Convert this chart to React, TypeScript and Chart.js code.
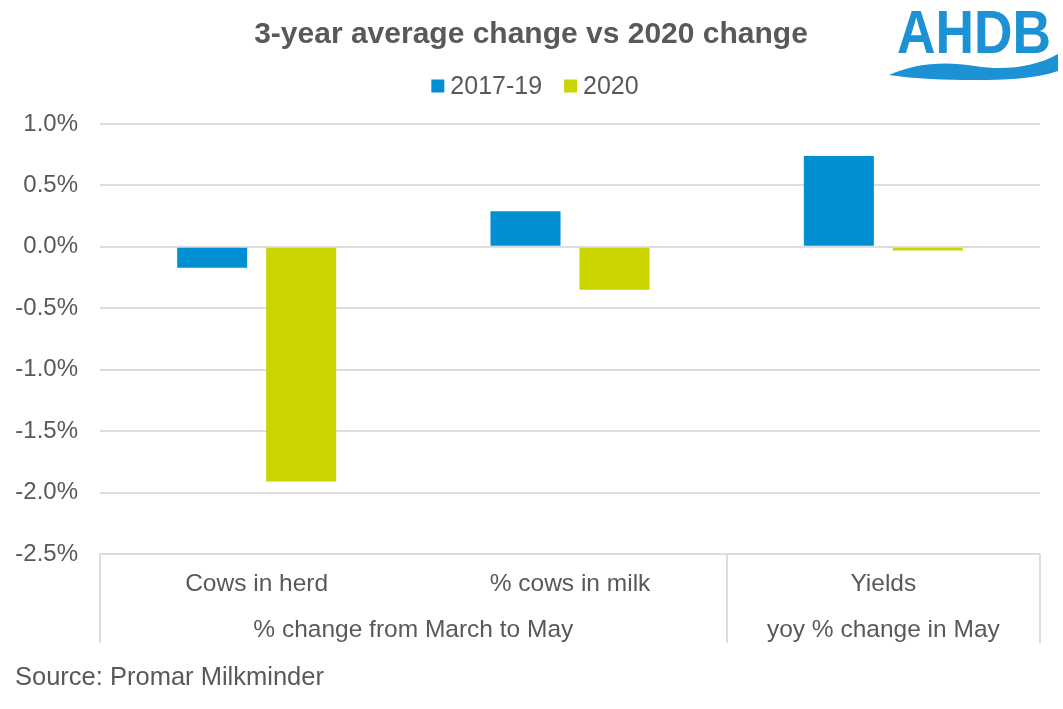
import { useEffect, useRef } from 'react';
import { Chart, registerables } from 'chart.js';

Chart.register(...registerables);

const categories = ['Cows in herd', '% cows in milk', 'Yields'];
const groupLabels = ['% change from March to May', 'yoy % change in May'];
const groupStart = [0, 2];
const groupEnd = [1, 2];
const seriesNames = ['2017-19', '2020'];
const values2017to19 = [-0.17, 0.29, 0.74];
const values2020 = [-1.91, -0.35, -0.03];
const yMin = -2.5;
const yMax = 1.0;
const yStep = 0.5;
const titleText = '3-year average change vs 2020 change';
const sourceText = 'Source: Promar Milkminder';
const logoText = 'AHDB';

const BLUE = '#008FD3';
const GREEN = '#C9D400';
const TEXT = '#595959';
const GRID = '#DDDDDD';
const FONT = '"Liberation Sans", Arial, sans-serif';

const overlayPlugin = {
  id: 'overlay',
  afterDraw(chart: any) {
    const ctx = chart.ctx as CanvasRenderingContext2D;
    const area = chart.chartArea;
    const xs = chart.scales.x;
    ctx.save();

    // Title
    ctx.fillStyle = TEXT;
    ctx.font = `bold 30px ${FONT}`;
    ctx.textAlign = 'center';
    ctx.textBaseline = 'middle';
    ctx.fillText(titleText, 531, 35);

    // Legend
    ctx.font = `25px ${FONT}`;
    const box = 13;
    const gapBoxText = 6;
    const gapItems = 22;
    const colors = [BLUE, GREEN];
    const widths = seriesNames.map((s) => ctx.measureText(s).width);
    let total = 0;
    widths.forEach((w, i) => {
      total += box + gapBoxText + w + (i < widths.length - 1 ? gapItems : 0);
    });
    let lx = 535 - total / 2;
    const ly = 86;
    ctx.textAlign = 'left';
    seriesNames.forEach((s, i) => {
      ctx.fillStyle = colors[i];
      ctx.fillRect(lx, ly - box / 2, box, box);
      lx += box + gapBoxText;
      ctx.fillStyle = TEXT;
      ctx.fillText(s, lx, ly + 1);
      lx += widths[i] + gapItems;
    });

    // Category labels
    ctx.font = `24.5px ${FONT}`;
    const n = categories.length;
    const catW = (area.right - area.left) / n;
    ctx.textAlign = 'center';
    categories.forEach((c, i) => {
      ctx.fillText(c, xs.getPixelForValue(i), 584);
    });

    // Group labels & separators
    ctx.strokeStyle = GRID;
    ctx.lineWidth = 2;
    const sepBottom = 643;
    const boundaries: number[] = [];
    groupLabels.forEach((g, gi) => {
      const left = xs.getPixelForValue(groupStart[gi]) - catW / 2;
      const right = xs.getPixelForValue(groupEnd[gi]) + catW / 2;
      ctx.fillText(g, (left + right) / 2, 630);
      if (boundaries.indexOf(left) < 0) boundaries.push(left);
      if (boundaries.indexOf(right) < 0) boundaries.push(right);
    });
    boundaries.forEach((bx) => {
      ctx.beginPath();
      ctx.moveTo(Math.round(bx), area.bottom);
      ctx.lineTo(Math.round(bx), sepBottom);
      ctx.stroke();
    });

    // Source
    ctx.font = `25.5px ${FONT}`;
    ctx.textAlign = 'left';
    ctx.fillStyle = TEXT;
    ctx.fillText(sourceText, 15, 678);

    // Logo
    ctx.fillStyle = '#1C91D3';
    ctx.font = `bold 62px ${FONT}`;
    ctx.textAlign = 'left';
    ctx.textBaseline = 'alphabetic';
    ctx.fillText(logoText, 897, 53, 154);
    ctx.beginPath();
    ctx.moveTo(889, 75);
    ctx.bezierCurveTo(915, 63, 945, 61, 975, 66);
    ctx.bezierCurveTo(1005, 71, 1035, 67, 1058, 54);
    ctx.lineTo(1058, 71);
    ctx.bezierCurveTo(1035, 79, 1005, 80, 975, 80);
    ctx.bezierCurveTo(945, 80, 915, 79, 889, 75);
    ctx.closePath();
    ctx.fill();

    ctx.restore();
  },
};

export default function App() {
  const ref = useRef<HTMLCanvasElement | null>(null);

  useEffect(() => {
    if (!ref.current) return;
    const chart = new Chart(ref.current, {
      type: 'bar',
      data: {
        labels: categories,
        datasets: [
          {
            label: seriesNames[0],
            data: values2017to19,
            backgroundColor: BLUE,
            borderWidth: 0,
            categoryPercentage: 0.568,
            barPercentage: 0.787,
          },
          {
            label: seriesNames[1],
            data: values2020,
            backgroundColor: GREEN,
            borderWidth: 0,
            categoryPercentage: 0.568,
            barPercentage: 0.787,
          },
        ],
      },
      options: {
        responsive: false,
        animation: false,
        devicePixelRatio: 1,
        layout: { padding: { left: 0, right: 23, top: 124, bottom: 155 } },
        plugins: {
          legend: { display: false },
          title: { display: false },
          tooltip: { enabled: false },
        },
        scales: {
          x: {
            display: false,
          },
          y: {
            min: yMin,
            max: yMax,
            afterFit: (scale: any) => {
              scale.width = 100;
            },
            ticks: {
              stepSize: yStep,
              padding: 22,
              color: TEXT,
              font: { family: FONT, size: 24 },
              callback: (v: any) => Number(v).toFixed(1) + '%',
            },
            grid: { color: GRID, lineWidth: 2, drawTicks: false },
            border: { display: false },
          },
        },
      },
      plugins: [overlayPlugin],
    });
    return () => chart.destroy();
  }, []);

  return (
    <div style={{ position: 'absolute', left: 0, top: 0, width: 1063, height: 709, background: '#fff' }}>
      <canvas ref={ref} width={1063} height={709} style={{ display: 'block' }} />
    </div>
  );
}
